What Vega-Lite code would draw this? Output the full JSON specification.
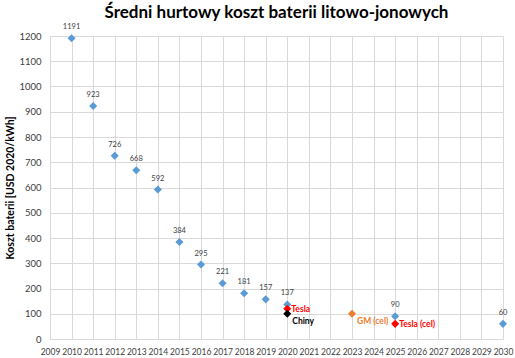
{
  "$schema": "https://vega.github.io/schema/vega-lite/v6.json",
  "width": 453,
  "height": 303,
  "autosize": {"type": "none"},
  "padding": {"left": 50, "top": 36, "right": 12, "bottom": 19},
  "background": "white",
  "config": {
    "font": "Lato",
    "view": {"stroke": null},
    "axis": {
      "gridColor": "#d9d9d9",
      "gridWidth": 1,
      "domainColor": "#d9d9d9",
      "ticks": false,
      "labelColor": "#404040",
      "labelFont": "Lato",
      "titleFont": "Lato"
    }
  },
  "title": {
    "text": "Średni hurtowy koszt baterii litowo-jonowych",
    "font": "Lato",
    "fontSize": 17,
    "fontWeight": "bold",
    "color": "#000000",
    "anchor": "middle",
    "frame": "group",
    "baseline": "alphabetic",
    "offset": -5,
    "dy": 7
  },
  "data": {
    "values": [
      {"rok": 2010, "koszt": 1191, "seria": "średnia", "etykieta": "1191"},
      {"rok": 2011, "koszt": 923, "seria": "średnia", "etykieta": "923"},
      {"rok": 2012, "koszt": 726, "seria": "średnia", "etykieta": "726"},
      {"rok": 2013, "koszt": 668, "seria": "średnia", "etykieta": "668"},
      {"rok": 2014, "koszt": 592, "seria": "średnia", "etykieta": "592"},
      {"rok": 2015, "koszt": 384, "seria": "średnia", "etykieta": "384"},
      {"rok": 2016, "koszt": 295, "seria": "średnia", "etykieta": "295"},
      {"rok": 2017, "koszt": 221, "seria": "średnia", "etykieta": "221"},
      {"rok": 2018, "koszt": 181, "seria": "średnia", "etykieta": "181"},
      {"rok": 2019, "koszt": 157, "seria": "średnia", "etykieta": "157"},
      {"rok": 2020, "koszt": 137, "seria": "średnia", "etykieta": "137"},
      {"rok": 2025, "koszt": 90, "seria": "średnia", "etykieta": "90"},
      {"rok": 2030, "koszt": 60, "seria": "średnia", "etykieta": "60"},
      {"rok": 2020, "koszt": 120, "seria": "Tesla", "etykieta": "Tesla"},
      {"rok": 2020, "koszt": 100, "seria": "Chiny", "etykieta": "Chiny"},
      {"rok": 2023, "koszt": 100, "seria": "GM", "etykieta": "GM (cel)"},
      {"rok": 2025, "koszt": 60, "seria": "Tesla", "etykieta": "Tesla (cel)"}
    ]
  },
  "encoding": {
    "x": {
      "field": "rok",
      "type": "quantitative",
      "scale": {"domain": [2009, 2030], "nice": false, "zero": false},
      "axis": {
        "title": null,
        "values": [2009, 2010, 2011, 2012, 2013, 2014, 2015, 2016, 2017, 2018, 2019, 2020, 2021, 2022, 2023, 2024, 2025, 2026, 2027, 2028, 2029, 2030],
        "format": "d",
        "labelFontSize": 8.5,
        "labelPadding": 8,
        "labelFlush": false
      }
    },
    "y": {
      "field": "koszt",
      "type": "quantitative",
      "scale": {"domain": [0, 1200], "nice": false},
      "axis": {
        "title": "Koszt baterii [USD 2020/kWh]",
        "titleFontSize": 10.5,
        "titleFontWeight": "bold",
        "titleColor": "#000000",
        "titlePadding": 3,
        "values": [0, 100, 200, 300, 400, 500, 600, 700, 800, 900, 1000, 1100, 1200],
        "format": "d",
        "labelFontSize": 9.5,
        "labelPadding": 9
      }
    },
    "color": {
      "field": "seria",
      "type": "nominal",
      "legend": null,
      "scale": {
        "domain": ["średnia", "Tesla", "Chiny", "GM"],
        "range": ["#5b9bd5", "#ff0000", "#000000", "#ed7d31"]
      }
    }
  },
  "layer": [
    {
      "mark": {"type": "point", "shape": "diamond", "filled": true, "size": 65, "opacity": 1}
    },
    {
      "transform": [{"filter": "datum.seria === 'średnia'"}],
      "mark": {"type": "text", "dy": -11, "fontSize": 7.5, "color": "#404040"},
      "encoding": {"text": {"field": "etykieta"}, "color": {"value": "#404040"}}
    },
    {
      "transform": [{"filter": "datum.seria === 'Tesla'"}],
      "mark": {"type": "text", "align": "left", "dx": 4, "fontSize": 8.5, "fontWeight": "bold"},
      "encoding": {"text": {"field": "etykieta"}}
    },
    {
      "transform": [{"filter": "datum.seria === 'Chiny' || datum.seria === 'GM'"}],
      "mark": {"type": "text", "align": "left", "dx": 5, "dy": 7, "fontSize": 8.5, "fontWeight": "bold"},
      "encoding": {"text": {"field": "etykieta"}}
    }
  ]
}
